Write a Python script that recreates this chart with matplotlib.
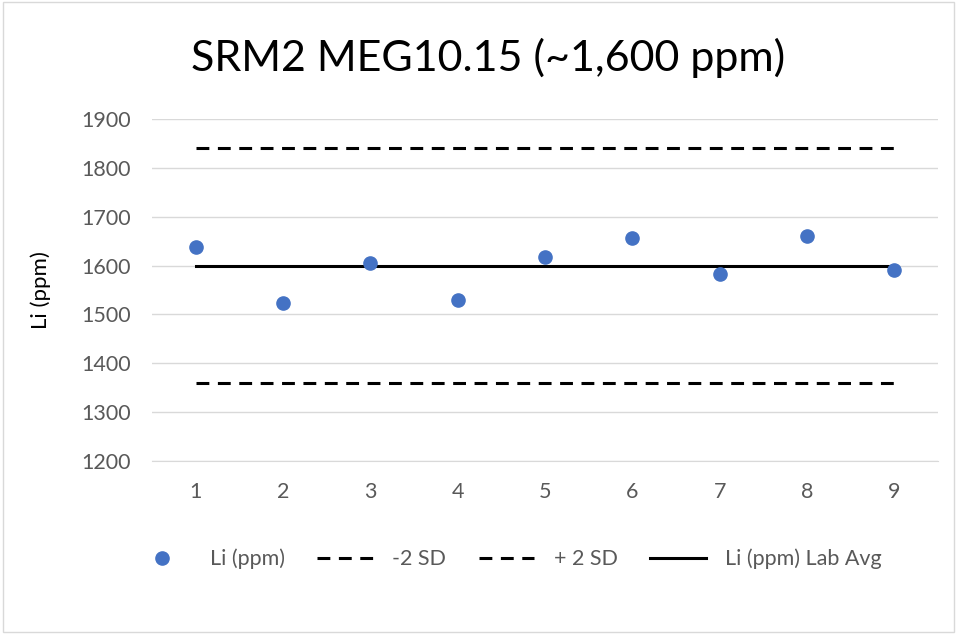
import matplotlib.pyplot as plt
from matplotlib.patches import Rectangle

# data
runs = [1, 2, 3, 4, 5, 6, 7, 8, 9]
li_ppm = [1637, 1524, 1605, 1530, 1618, 1657, 1582, 1660, 1591]
minus_2sd = [1360] * 9
plus_2sd = [1840] * 9
lab_avg = [1600] * 9

plt.rcParams['font.family'] = ['Lato', 'DejaVu Sans']

fig = plt.figure(figsize=(9.57, 6.34), dpi=100)
ax = fig.add_axes([0.1588, 0.2729, 0.8213, 0.5394])

dash = (0, (4.2, 2.8))
ax.plot(runs, li_ppm, 'o', color='#4472C4', markersize=9.5, label='Li (ppm)', zorder=4)
ax.plot(runs, minus_2sd, color='black', lw=2.2, linestyle=dash, label='-2 SD')
ax.plot(runs, plus_2sd, color='black', lw=2.2, linestyle=dash, label='+ 2 SD')
ax.plot(runs, lab_avg, color='black', lw=2.2, label='Li (ppm) Lab Avg')

ax.set_xlim(0.5, 9.5)
ax.set_ylim(1200, 1900)
ax.set_yticks(range(1200, 1901, 100))
ax.set_xticks(runs)
ax.grid(axis='y', color='#d9d9d9', lw=1)
ax.set_axisbelow(True)
for s in ['top', 'right', 'left']:
    ax.spines[s].set_visible(False)
ax.spines['bottom'].set_color('#d9d9d9')
ax.tick_params(length=0, labelsize=15.5, colors='#595959', pad=15)
ax.set_ylabel('Li (ppm)', fontsize=16, labelpad=22)

fig.suptitle('SRM2 MEG10.15 (~1,600 ppm)', fontsize=31, x=0.51, y=0.94)

fig.legend(loc='center', bbox_to_anchor=(0.531, 0.118), ncol=4, frameon=False,
           fontsize=15.5, handlelength=2.6, handletextpad=0.9, columnspacing=1.5,
           labelcolor='#595959')

fig.patches.append(Rectangle((0.003, 0.003), 0.994, 0.994, transform=fig.transFigure,
                             fill=False, edgecolor='#d9d9d9', lw=1))

fig.savefig('out.png', dpi=100)
